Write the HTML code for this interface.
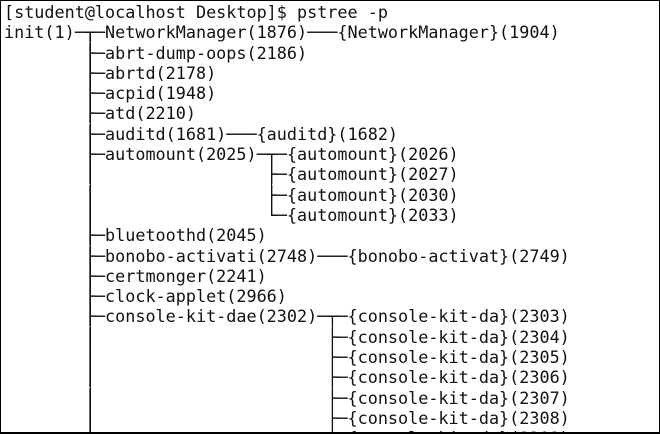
<!DOCTYPE html>
<html><head><meta charset="utf-8"><style>
html,body{margin:0;padding:0;background:#fff;}
#t{position:absolute;left:0;top:0;width:658px;height:431px;border:1px solid #000;border-bottom-width:2px;overflow:hidden;background:#fff;}
pre{margin:0;position:absolute;left:3px;top:1px;font-family:"DejaVu Sans Mono","Liberation Mono",monospace;font-size:16.8px;line-height:20.3px;color:#111;}
.v{position:absolute;width:1px;background:#111;}
</style></head><body><div id="t"><pre>[student@localhost Desktop]$ pstree -p
init(1)─┬─NetworkManager(1876)───{NetworkManager}(1904)
        ├─abrt-dump-oops(2186)
        ├─abrtd(2178)
        ├─acpid(1948)
        ├─atd(2210)
        ├─auditd(1681)───{auditd}(1682)
        ├─automount(2025)─┬─{automount}(2026)
        │                 ├─{automount}(2027)
        │                 ├─{automount}(2030)
        │                 └─{automount}(2033)
        ├─bluetoothd(2045)
        ├─bonobo-activati(2748)───{bonobo-activat}(2749)
        ├─certmonger(2241)
        ├─clock-applet(2966)
        ├─console-kit-dae(2302)─┬─{console-kit-da}(2303)
        │                       ├─{console-kit-da}(2304)
        │                       ├─{console-kit-da}(2305)
        │                       ├─{console-kit-da}(2306)
        │                       ├─{console-kit-da}(2307)
        │                       ├─{console-kit-da}(2308)
        │                       ├─{console-kit-da}(2309)</pre>
<div class="v" style="left:89px;top:32px;height:410px"></div>
<div class="v" style="left:270px;top:154px;height:61px"></div>
<div class="v" style="left:331px;top:317px;height:130px"></div>
</div></body></html>
